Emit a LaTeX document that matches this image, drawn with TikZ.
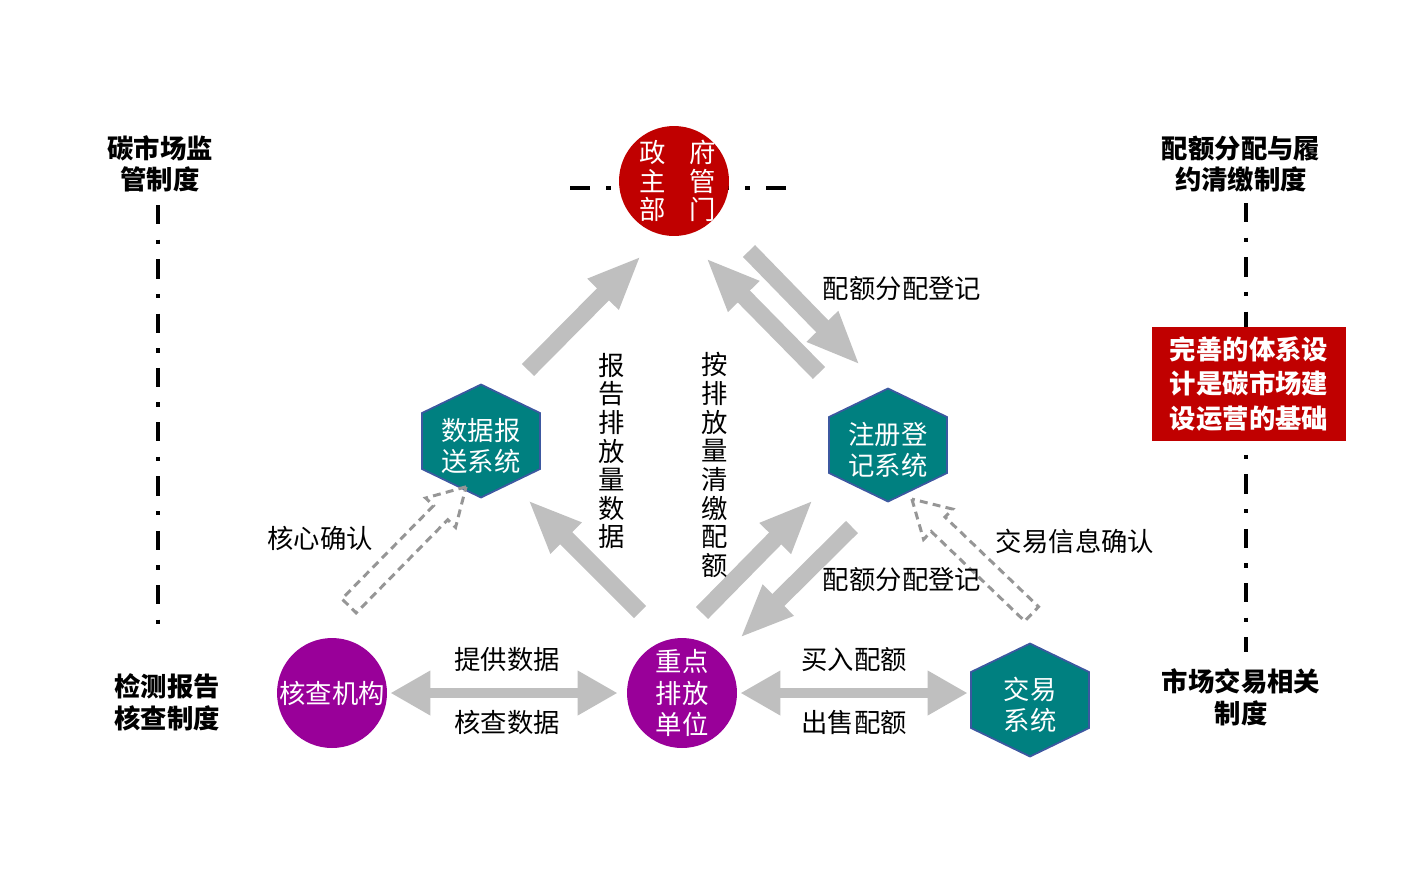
\documentclass[tikz,border=0pt]{standalone}
\usepackage{fontspec}
\setmainfont{Noto Sans CJK SC}
\usetikzlibrary{arrows.meta, positioning, calc, shapes.arrows, backgrounds}
\definecolor{carbonRed}{RGB}{192,0,0}
\definecolor{carbonPurple}{RGB}{153,0,153}
\definecolor{carbonTeal}{RGB}{0,128,128}
\definecolor{carbonEdge}{RGB}{60,88,160}
\definecolor{carbonGrey}{RGB}{191,191,191}
\definecolor{carbonDash}{RGB}{150,150,150}

\begin{document}
\begin{tikzpicture}[x=0.02cm, y=-0.02cm,
    actor/.style={circle, inner sep=0pt, minimum size=2.2cm, fill=carbonPurple, text=white, align=center,
      font=\fontsize{15}{18}\selectfont},
    hexbox/.style={inner sep=0pt, minimum width=2.36cm, minimum height=1.14cm, text=white, align=center,
      font=\fontsize{15}{17.6}\selectfont},
    hexedge/.style={fill=carbonTeal, draw=carbonEdge, line width=1pt},
    tag/.style={font=\fontsize{15}{18}\selectfont, align=center},
    rulebox/.style={font=\bfseries\fontsize{15}{18}\selectfont, align=center},
    flowArrow/.style={draw=carbonGrey, line width=0.34cm, -{Triangle[length=1.08cm, width=0.8cm]}},
    tradeArrow/.style={draw=carbonGrey, line width=0.2cm,
      {Triangle[length=0.8cm, width=0.84cm]}-{Triangle[length=0.8cm, width=0.84cm]}},
    ackArrow/.style={single arrow, draw=carbonDash, line width=1.7pt, dash pattern=on 4.5pt off 3pt,
      inner xsep=0pt, inner ysep=0.17cm, single arrow head extend=0.22cm, single arrow tip angle=60},
    sepLine/.style={line width=2.8pt, dash pattern=on 11pt off 8.7pt on 2.5pt off 8.7pt}
  ]
  \useasboundingbox (0,0) rectangle (1413,877);

  % government on top, units below
  \node[circle, fill=carbonRed, minimum size=2.2cm] (gov) at (674,181) {};
  \node[tag, text=white, font=\fontsize{15}{16.2}\selectfont] (govName) at (678,181)
    {政\hspace{0.47cm}府\\主\hspace{0.47cm}管\\部\hspace{0.47cm}门};
  \node[hexbox] (data) at (481,446) {数据报\\送系统};
  \node[hexbox] (reg) at (888,450) {注册登\\记系统};
  \node[hexbox] (trade) at (1030,705) {交易\\系统};
  \node[actor] (chk) at (332,693) {核查机构};
  \node[actor] (key) at (682,693) {重点\\排放\\单位};

  % the four rule texts and the note
  \node[rulebox] (supRule) at (160,164) {碳市场监\\管制度};
  \node[rulebox] (chkRule) at (167,702) {检测报告\\核查制度};
  \node[rulebox] (quotaRule) at (1241,164) {配额分配与履\\约清缴制度};
  \node[rulebox] (mktRule) at (1241,697) {市场交易相关\\制度};
  \node[fill=carbonRed, text=white, minimum width=3.9cm, minimum height=2.28cm, align=center,
    font=\bfseries\fontsize{15}{19.5}\selectfont] (note) at (1249,384)
    {完善的体系设\\计是碳市场建\\设运营的基础};

  \coordinate (supTop) at (158,205);
  \coordinate (supBot) at (158,625);
  \coordinate (ruleTop) at (1246,203);
  \coordinate (ruleBot) at (1246,652);
  \coordinate (govL) at (570,188);
  \coordinate (govR) at (786,188);

  \begin{scope}[on background layer]
    \foreach \h in {data,reg,trade}
      \draw[hexedge] ($(\h)+(0,-61.5)$) -- ++(59,28.5) -- ++(0,56) -- ++(-59,28.5)
        -- ++(-59,-28.5) -- ++(0,-56) -- cycle;
    \draw[sepLine] (supTop) -- (supBot);
    \draw[sepLine] (ruleTop) -- (ruleBot);
    \draw[sepLine, line width=2.3pt, dash pattern=on 11.4pt off 9.1pt on 2.8pt off 9.1pt] (govL) -- (govL -| gov);
    \draw[sepLine, line width=2.3pt, dash pattern=on 11.4pt off 9.1pt on 2.8pt off 9.1pt] (govR) -- (govR -| gov);
  \end{scope}

  % block arrows
  \coordinate (rptTail) at (528,370);
  \coordinate (rptTip) at (641,256);
  \coordinate (payTail) at (819,373);
  \coordinate (payTip) at (706,258);
  \coordinate (allocTail) at (749,251);
  \coordinate (allocTip) at (860,365);
  \coordinate (sendTail) at (640,612);
  \coordinate (sendTip) at (528,500);
  \coordinate (buyTail) at (702,613);
  \coordinate (buyTip) at (813,500);
  \coordinate (giveTail) at (852,527);
  \coordinate (giveTip) at (740,638);
  \draw[flowArrow] (rptTail) -- (rptTip);
  \draw[flowArrow] (payTail) -- (payTip);
  \draw[flowArrow] (allocTail) -- (allocTip);
  \draw[flowArrow] (sendTail) -- (sendTip);
  \draw[flowArrow] (buyTail) -- (buyTip);
  \draw[flowArrow] (giveTail) -- (giveTip);

  \draw[tradeArrow, shorten <=0.06cm, shorten >=0.18cm] (chk) --
    node[tag, above=0.2cm] (provide) {提供数据} node[tag, below=0.12cm] (verify) {核查数据} (key);
  \draw[tradeArrow, shorten <=0.06cm, shorten >=0.06cm] (key) --
    node[tag, above=0.2cm] (buy) {买入配额} node[tag, below=0.12cm] (sell) {出售配额} (key -| trade.west);

  % dashed confirmations
  \coordinate (ackLTail) at (343,612);
  \coordinate (ackLTip) at (460,493);
  \coordinate (ackRTail) at (1038,620);
  \coordinate (ackRTip) at (918,505);
  \node[ackArrow, rotate=45.5, minimum height=3.34cm] (ackL) at ($(ackLTail)!0.5!(ackLTip)$) {};
  \node[ackArrow, rotate=136.2, minimum height=3.32cm] (ackR) at ($(ackRTail)!0.5!(ackRTip)$) {};

  \node[tag] (allocTop) at (902,289) {配额分配登记};
  \node[tag] (allocLow) at (902,580) {配额分配登记};
  \node[tag, font=\fontsize{15}{16.3}\selectfont] (rptText) at (612,451) {报\\告\\排\\放\\量\\数\\据};
  \node[tag, font=\fontsize{15}{16.3}\selectfont] (payText) at (715,465) {按\\排\\放\\量\\清\\缴\\配\\额};
  \node[tag] (ackLText) at (320,538) {核心确认};
  \node[tag] (ackRText) at (1075,541) {交易信息确认};
\end{tikzpicture}
\end{document}
